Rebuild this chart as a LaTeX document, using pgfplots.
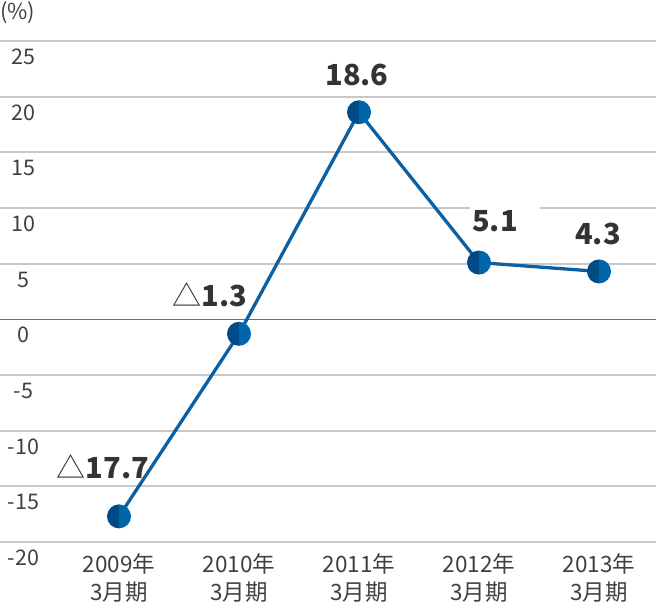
\documentclass[border=0pt]{standalone}
\usepackage{fontspec}
\setmainfont{Noto Sans CJK JP}
\usepackage{pgfplots}
\pgfplotsset{compat=1.18}
\definecolor{lineblue}{HTML}{0A60A3}
\definecolor{mdark}{HTML}{004A88}
\definecolor{mlight}{HTML}{0066AA}
\definecolor{gridgray}{HTML}{C8C8C8}
\definecolor{zerogray}{HTML}{6E6E6E}
\definecolor{txt}{HTML}{333333}
\definecolor{ticktxt}{HTML}{404040}
\pgfdeclareplotmark{halfc}{%
  \pgfsetfillcolor{mdark}%
  \pgfpathmoveto{\pgfqpoint{0pt}{\pgfplotmarksize}}%
  \pgfpatharc{90}{270}{\pgfplotmarksize}%
  \pgfpathclose\pgfusepath{fill}%
  \pgfsetfillcolor{mlight}%
  \pgfpathmoveto{\pgfqpoint{0pt}{-\pgfplotmarksize}}%
  \pgfpatharc{-90}{90}{\pgfplotmarksize}%
  \pgfpathclose\pgfusepath{fill}}
\begin{document}
\begin{tikzpicture}
\begin{axis}[
  at={(0,0)}, anchor=south west,
  scale only axis, width=656bp, height=501bp,
  xmin=-0.9917, xmax=4.475, ymin=-20, ymax=25,
  axis line style={draw=none}, major tick length=0pt,
  xtick={0,1,2,3,4},
  xticklabels={{2009年\\3月期},{2010年\\3月期},{2011年\\3月期},{2012年\\3月期},{2013年\\3月期}},
  xticklabel style={align=center, font=\fontsize{22.5bp}{28bp}\selectfont, text=ticktxt, anchor=north, yshift=-8bp},
  ytick={-20,-15,-10,-5,5,10,15,20,25},
  extra y ticks={0},
  extra y tick style={grid style={draw=zerogray, line width=1.6bp}},
  ymajorgrids, grid style={draw=gridgray, line width=1.8bp},
  yticklabel style={anchor=center, xshift=23.5bp, yshift=-16bp, font=\fontsize{21.5bp}{24bp}\selectfont, text=ticktxt, inner sep=0pt},
  /pgf/number format/assume math mode=true,
  clip=false,
]
\fill[white] (axis cs:3,5.1) ++(-9bp,45bp) rectangle ++(70bp,18bp);
\addplot[draw=lineblue, line width=3.3bp, mark=halfc, mark size=12bp] coordinates {
  (0,-17.7) (1,-1.3) (2,18.6) (3,5.1) (4,4.3)
};
\node[text=txt, font=\fontsize{29bp}{30bp}\selectfont, inner sep=0pt] at (axis cs:0,-17.7) [xshift=-16bp, yshift=50bp] {△\textbf{17.7}};
\node[text=txt, font=\fontsize{29bp}{30bp}\selectfont, inner sep=0pt] at (axis cs:1,-1.3) [xshift=-29bp, yshift=39bp] {△\textbf{1.3}};
\node[text=txt, font=\fontsize{29bp}{30bp}\selectfont\bfseries, inner sep=0pt] at (axis cs:2,18.6) [xshift=-2bp, yshift=37bp] {18.6};
\node[text=txt, font=\fontsize{29bp}{30bp}\selectfont\bfseries, inner sep=0pt] at (axis cs:3,5.1) [xshift=16bp, yshift=41bp] {5.1};
\node[text=txt, font=\fontsize{29bp}{30bp}\selectfont\bfseries, inner sep=0pt] at (axis cs:4,4.3) [xshift=-1bp, yshift=37bp] {4.3};
\node[text=ticktxt, anchor=west, inner sep=0pt, font=\fontsize{22bp}{24bp}\selectfont] at (rel axis cs:0,1) [yshift=28bp] {(\%)};
\end{axis}
\pgfresetboundingbox
\useasboundingbox (0,-68bp) rectangle (656bp,542bp);
\end{tikzpicture}
\end{document}
